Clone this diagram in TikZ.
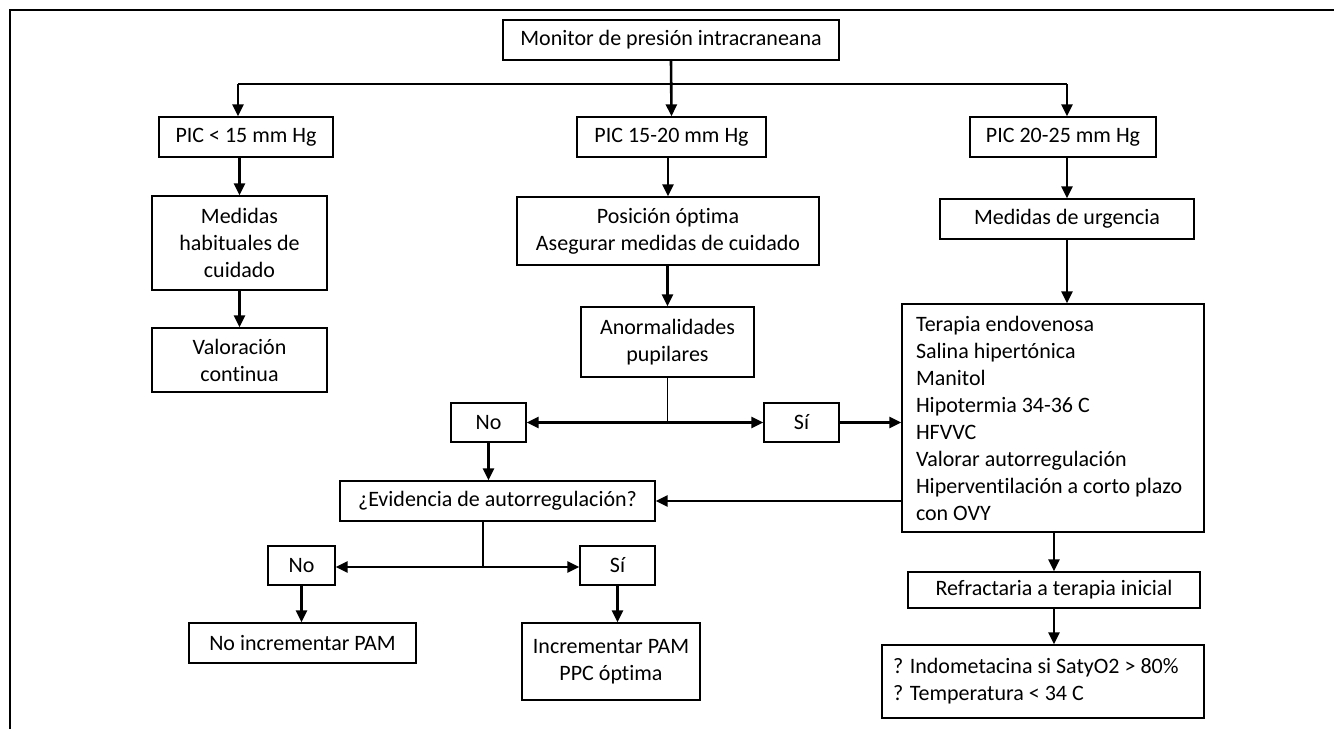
\documentclass[tikz,border=0pt]{standalone}
\usepackage{fontspec}
\setmainfont[Ligatures=NoCommon]{Carlito}
\usetikzlibrary{arrows.meta, calc}
\tikzset{
  caja/.style={draw, line width=0.7pt, inner sep=0pt, align=center, font=\fontsize{11pt}{13.5pt}\selectfont},
  flecha/.style={line width=1.3pt, -{Triangle[length=6pt,width=5.5pt]}},
  linea/.style={line width=0.7pt}
}
\begin{document}
\begin{tikzpicture}[x=0.5pt,y=-0.5pt]
  \useasboundingbox (0,0) rectangle (1334,729);
  \draw[line width=1pt] (10,729) -- (10,10) -- (1334,10);

  \node[caja, minimum width=168pt, minimum height=20pt] (monitor) at (671,40) {Monitor de presión intracraneana};
  \node[caja, minimum width=87pt, minimum height=20pt] (pic1) at (246,137) {PIC < 15 mm Hg};
  \node[caja, minimum width=94.5pt, minimum height=20pt] (pic2) at (671.5,137) {PIC 15-20 mm Hg};
  \node[caja, minimum width=93pt, minimum height=20pt] (pic3) at (1063,137) {PIC 20-25 mm Hg};

  \node[caja, minimum width=87.5pt, minimum height=47pt] (habit) at (239.5,243) {Medidas\\habituales de\\cuidado};
  \node[caja, minimum width=87.5pt, minimum height=32pt] (valor) at (239.5,360) {Valoración\\continua};

  \node[caja, minimum width=151pt, minimum height=34pt] (posic) at (668,231) {Posición óptima\\Asegurar medidas de cuidado};
  \node[caja, minimum width=86.5pt, minimum height=35pt] (anorm) at (667.5,342) {Anormalidades\\pupilares};
  \node[caja, minimum width=37.5pt, minimum height=19.5pt] (no1) at (488.5,422.5) {No};
  \node[caja, minimum width=37.5pt, minimum height=19.5pt] (si1) at (801.5,422.5) {Sí};
  \node[caja, minimum width=157.5pt, minimum height=20pt] (evid) at (497.5,501) {¿Evidencia de autorregulación?};
  \node[caja, minimum width=33.5pt, minimum height=19.5pt] (no2) at (301.5,565.5) {No};
  \node[caja, minimum width=37.5pt, minimum height=19.5pt] (si2) at (617.5,565.5) {Sí};
  \node[caja, minimum width=113.5pt, minimum height=20pt] (noinc) at (302.5,643) {No incrementar PAM};
  \node[caja, minimum width=89pt, minimum height=38.5pt] (inc) at (611,661.5) {Incrementar PAM\\PPC óptima};

  \node[caja, minimum width=127pt, minimum height=20pt] (urg) at (1067,219) {Medidas de urgencia};
  \node[caja, align=flush left, inner xsep=7pt, text width=137pt, minimum height=114pt] (terap) at (1053,418) {Terapia endovenosa\\Salina hipertónica\\Manitol\\Hipotermia 34-36 C\\HFVVC\\Valorar autorregulación\\Hiperventilación a corto plazo\\con OVY};
  \node[caja, minimum width=146pt, minimum height=18pt] (refr) at (1054,590) {Refractaria a terapia inicial};
  \node[caja, align=flush left, inner xsep=5.5pt, text width=150pt, minimum height=36.5pt] (indo) at (1043,681.5) {? Indometacina si SatyO2 > 80\%\\? Temperatura < 34 C};

  \coordinate (barL) at (238,84);
  \coordinate (barR) at (1067,84);
  \draw[linea] (barL) -- (barR);
  \draw[flecha] (barL) -- (barL |- pic1.north);
  \draw[flecha] (barR) -- (barR |- pic3.north);
  \draw[flecha] (monitor.south) -- (pic2.north);

  \draw[flecha] (pic1.south -| habit) -- (habit.north);
  \draw[flecha] (habit.south) -- (valor.north);

  \draw[flecha] (pic2.south -| posic) -- (posic.north);
  \draw[flecha] (posic.south -| anorm) -- (anorm.north);
  \coordinate (nudo1) at (anorm |- no1);
  \draw[linea] (anorm.south) -- (nudo1);
  \draw[flecha] (nudo1) -- (no1.east);
  \draw[flecha] (nudo1) -- (si1.west);
  \draw[flecha] (si1.east) -- (si1 -| terap.west);
  \draw[flecha] (no1.south) -- (no1 |- evid.north);
  \draw[flecha] (terap.west |- evid) -- (evid.east);

  \coordinate (nudo2) at (483,567);
  \draw[linea] (nudo2 |- evid.south) -- (nudo2);
  \draw[flecha] (nudo2) -- (nudo2 -| no2.east);
  \draw[flecha] (nudo2) -- (nudo2 -| si2.west);
  \draw[flecha] (no2.south) -- (no2 |- noinc.north);
  \draw[flecha] (si2.south) -- (si2 |- inc.north);

  \draw[flecha] (pic3.south -| urg) -- (urg.north);
  \draw[flecha] (urg.south) -- (urg |- terap.north);
  \draw[flecha] (refr |- terap.south) -- (refr.north);
  \draw[flecha] (refr.south) -- (refr |- indo.north);
\end{tikzpicture}
\end{document}
